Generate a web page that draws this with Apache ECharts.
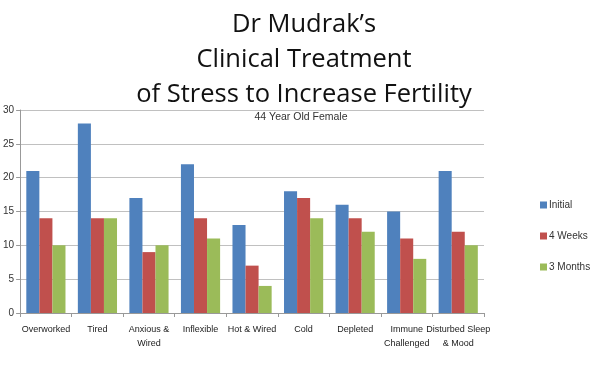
<!DOCTYPE html>
<html><head><meta charset="utf-8">
<script src="https://cdn.jsdelivr.net/npm/echarts@6/dist/echarts.min.js"></script>
<style>html,body{margin:0;padding:0;background:#fff}#c{width:590px;height:365px}</style>
</head><body><div id="c"></div>
<script>
var categories = ['Overworked','Tired','Anxious &\nWired','Inflexible','Hot & Wired','Cold','Depleted','Immune\nChallenged','Disturbed Sleep\n& Mood'];
var initial = [21, 28, 17, 22, 13, 18, 16, 15, 21];
var weeks4 = [14, 14, 9, 14, 7, 17, 14, 11, 12];
var months3 = [10, 14, 10, 11, 4, 14, 12, 8, 10];
var seriesNames = ['Initial','4 Weeks','3 Months'];
var yTicks = [0,5,10,15,20,25,30];

var sans = 'Liberation Sans, Arial, sans-serif';
var chart = echarts.init(document.getElementById('c'));
chart.setOption({
  animation: false,
  title: [{
    text: "Dr Mudrak\u2019s\nClinical Treatment\nof Stress to Increase Fertility",
    left: 299, top: 2, textAlign: 'center',
    textStyle: {fontFamily: 'Open Sans', fontSize: 25.5, fontWeight: 'normal', color: '#111', lineHeight: 35}
  },{
    text: '44 Year Old Female', left: 296, top: 107, textAlign: 'center',
    textStyle: {fontFamily: sans, fontSize: 10.5, fontWeight: 'normal', color: '#333'}
  }],
  legend: {
    orient: 'vertical', left: 535, top: 195, itemGap: 21,
    itemWidth: 7, itemHeight: 7, icon: 'rect',
    textStyle: {fontFamily: sans, fontSize: 10, color: '#333', padding: [0,0,0,-3]},
    data: seriesNames
  },
  grid: {left: 18, top: 110, width: 466, height: 203, containLabel: false},
  xAxis: {
    type: 'category', data: categories,
    axisLine: {lineStyle: {color: '#999'}},
    axisTick: {show: true, length: 4, lineStyle: {color: '#999'}},
    axisLabel: {fontFamily: sans, fontSize: 9, color: '#222', margin: 10, lineHeight: 14, interval: 0}
  },
  yAxis: {
    type: 'value', min: 0, max: 30, interval: 5,
    axisLine: {show: true, lineStyle: {color: '#999'}},
    axisTick: {show: true, length: 4, lineStyle: {color: '#999'}},
    splitLine: {lineStyle: {color: '#c0c0c0'}},
    axisLabel: {fontFamily: sans, fontSize: 10, color: '#333', margin: 6,
      formatter: function(v){ return yTicks.indexOf(v) >= 0 ? String(v) : ''; }}
  },
  series: [
    {name: seriesNames[0], type: 'bar', data: initial, barGap: '0%', barCategoryGap: '24%', itemStyle: {color: '#4f81bd'}},
    {name: seriesNames[1], type: 'bar', data: weeks4, itemStyle: {color: '#c0504d'}},
    {name: seriesNames[2], type: 'bar', data: months3, itemStyle: {color: '#9bbb59'}}
  ]
});
</script></body></html>
